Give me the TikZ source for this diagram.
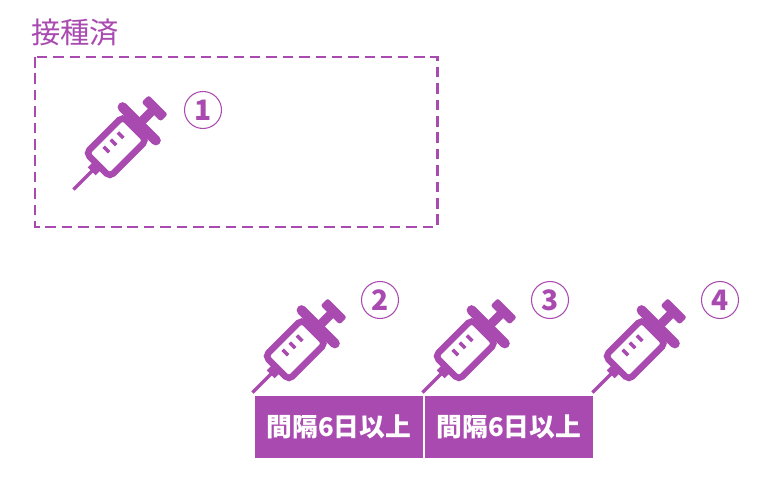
\documentclass[tikz,border=0pt]{standalone}
\usepackage{fontspec}
\newfontfamily\cjk{Noto Sans CJK JP}
\newfontfamily\cjkb{Noto Sans CJK JP}[FontFace={b}{n}{Noto Sans CJK JP Bold}]
\definecolor{vpurple}{HTML}{A94AB0}
\tikzset{
  syringe/.pic={
    \begin{scope}[rotate=45, line cap=butt, scale=1.12]
      \draw[line width=3.5*0.85pt] (-60,0) -- (-36,0);
      \fill (-37,-5) rectangle (-29,5);
      \draw[line width=6.5*0.85pt, rounded corners=4] (-29,-15) rectangle (17,15);
      \foreach \t in {-14,-5,4} \draw[line width=3.5*0.85pt] (\t,8) -- (\t,1);
      \draw[line width=10*0.85pt, line cap=round] (23,-21) -- (23,21);
      \fill (27,-4) rectangle (40,4);
      \fill[rounded corners=2] (38,-12) rectangle (47,12);
    \end{scope}
  },
  numcirc/.style={circle, draw=vpurple, line width=0.9pt, text=vpurple, minimum size=37*0.03cm, inner sep=0pt, font=\bfseries\cjkb\fontsize{24}{24}\selectfont},
  gapbox/.style={fill=vpurple, text=white, minimum width=168*0.03cm, minimum height=62*0.03cm, inner sep=0pt, font=\bfseries\cjkb\fontsize{22}{22}\selectfont}
}
\begin{document}
\begin{tikzpicture}[x=0.03cm, y=-0.03cm]
\useasboundingbox (0,0) rectangle (761,481);
% done
\node[text=vpurple, font=\cjk\fontsize{25}{25}\selectfont] (donelbl) at (75,33) {接種済};
\draw[vpurple, line width=3*0.85pt, dash pattern=on 9pt off 5pt] (35,57) rectangle (437,227);
\begin{scope}[color=vpurple, fill=vpurple, draw=vpurple, x=0.03cm, y=0.03cm]
\pic at (121,-142) {syringe};
\pic at (300,-345) {syringe};
\pic at (470,-345) {syringe};
\pic at (640,-345) {syringe};
\end{scope}
\node[numcirc] (n1) at (203,110) {1};
\node[numcirc] (n2) at (380,300) {2};
\node[numcirc] (n3) at (550,300) {3};
\node[numcirc] (n4) at (720,300) {4};
% intervals
\node[gapbox] (gap1) at (339,427) {間隔6日以上};
\node[gapbox] (gap2) at (509,427) {間隔6日以上};
\end{tikzpicture}
\end{document}
